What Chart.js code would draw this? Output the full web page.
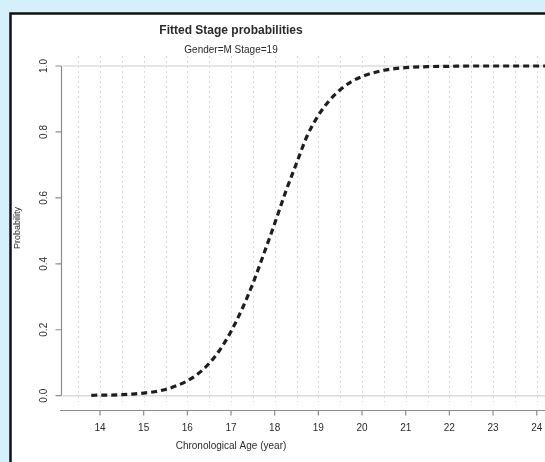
<!DOCTYPE html>
<html>
<head>
<meta charset="utf-8">
<script src="https://cdn.jsdelivr.net/npm/chart.js@4.4.1/dist/chart.umd.min.js"></script>
<style>
  html, body { margin: 0; padding: 0; background: #d4f0fb; }
  #wrap { width: 545px; height: 462px; position: relative; }
</style>
</head>
<body>
<div id="wrap"><canvas id="stageChart" width="545" height="462"></canvas></div>
<script>
// fitted curve
const ages = [13.8, 14.0, 14.25, 14.5, 14.75, 15.0, 15.25, 15.5, 15.75, 16.0, 16.25, 16.5, 16.75,
  17.0, 17.25, 17.5, 17.75, 18.0, 18.25, 18.5, 18.75, 19.0, 19.25, 19.5, 19.75, 20.0, 20.25,
  20.5, 20.75, 21.0, 21.5, 22.0, 22.5, 23.0, 23.5, 24.0, 24.5];
const probs = [0.001, 0.002, 0.002, 0.003, 0.005, 0.008, 0.012, 0.019, 0.030, 0.045, 0.067, 0.098, 0.140,
  0.195, 0.262, 0.340, 0.430, 0.522, 0.618, 0.705, 0.790, 0.850, 0.895, 0.928, 0.952, 0.968, 0.979,
  0.987, 0.992, 0.995, 0.998, 0.999, 1.0, 1.0, 1.0, 1.0, 1.0];

const xTicks = [14, 15, 16, 17, 18, 19, 20, 21, 22, 23, 24];
const yTicks = [0, 0.2, 0.4, 0.6, 0.8, 1.0];
const yTickLabels = ['0.0', '0.2', '0.4', '0.6', '0.8', '1.0'];
const gridAges = [13.5, 14, 14.5, 15, 15.5, 16, 16.5, 17, 17.5, 18, 18.5, 19, 19.5, 20,
  20.5, 21, 21.5, 22, 22.5, 23, 23.5, 24];
const refLines = [0, 1];

const FONT = '"Liberation Sans", Arial, sans-serif';

// R style frame, grid, axes and texts
const rPlotDecor = {
  id: 'rPlotDecor',
  beforeDraw(chart) {
    const ctx = chart.ctx;
    ctx.save();
    ctx.fillStyle = '#d4f0fb';
    ctx.fillRect(0, 0, chart.width, chart.height);
    ctx.fillStyle = '#ffffff';
    ctx.fillRect(10, 13, chart.width, chart.height);
    ctx.strokeStyle = '#111111';
    ctx.lineWidth = 2.5;
    ctx.strokeRect(10.5, 13.5, chart.width + 20, chart.height + 20);
    ctx.restore();
  },
  beforeDatasetsDraw(chart) {
    const ctx = chart.ctx;
    const xs = chart.scales.x, ys = chart.scales.y;
    const area = chart.chartArea;
    ctx.save();
    // dotted vertical grid
    ctx.strokeStyle = '#d8d8d8';
    ctx.lineWidth = 1;
    ctx.setLineDash([2, 3]);
    gridAges.forEach(a => {
      const px = Math.round(xs.getPixelForValue(a)) + 0.5;
      ctx.beginPath();
      ctx.moveTo(px, area.top);
      ctx.lineTo(px, area.bottom);
      ctx.stroke();
    });
    ctx.setLineDash([]);
    // horizontal reference lines at 0 and 1
    ctx.strokeStyle = '#dcdcdc';
    ctx.lineWidth = 1.5;
    refLines.forEach(v => {
      const py = ys.getPixelForValue(v);
      ctx.beginPath();
      ctx.moveTo(area.left + 3, py);
      ctx.lineTo(area.right, py);
      ctx.stroke();
    });
    ctx.restore();
  },
  afterDraw(chart) {
    const ctx = chart.ctx;
    const xs = chart.scales.x, ys = chart.scales.y;
    const area = chart.chartArea;
    ctx.save();
    ctx.strokeStyle = '#8c8c8c';
    ctx.lineWidth = 1.2;
    // y axis
    const axX = 61.5;
    ctx.beginPath();
    ctx.moveTo(axX, ys.getPixelForValue(yTicks[0]));
    ctx.lineTo(axX, ys.getPixelForValue(yTicks[yTicks.length - 1]));
    yTicks.forEach(v => {
      const py = ys.getPixelForValue(v);
      ctx.moveTo(axX, py);
      ctx.lineTo(axX - 6, py);
    });
    ctx.stroke();
    // x axis
    const axY = 410.5;
    ctx.beginPath();
    ctx.moveTo(area.left, axY);
    ctx.lineTo(area.right, axY);
    xTicks.forEach(v => {
      const px = xs.getPixelForValue(v);
      ctx.moveTo(px, axY);
      ctx.lineTo(px, axY + 5);
    });
    ctx.stroke();

    ctx.fillStyle = '#2a2a2a';
    ctx.textAlign = 'center';
    ctx.textBaseline = 'middle';
    ctx.font = '10px ' + FONT;
    xTicks.forEach(v => ctx.fillText(String(v), xs.getPixelForValue(v), 428));
    yTicks.forEach((v, i) => {
      ctx.save();
      ctx.translate(44, ys.getPixelForValue(v));
      ctx.rotate(-Math.PI / 2);
      ctx.fillText(yTickLabels[i], 0, 0);
      ctx.restore();
    });
    ctx.fillText('Chronological Age (year)', 231, 446);
    ctx.save();
    ctx.font = '9px ' + FONT;
    ctx.translate(18, 228);
    ctx.rotate(-Math.PI / 2);
    ctx.fillText('Probability', 0, 0);
    ctx.restore();
    ctx.font = 'bold 12px ' + FONT;
    ctx.fillText('Fitted Stage probabilities', 231, 31);
    ctx.font = '10px ' + FONT;
    ctx.fillText('Gender=M Stage=19', 231, 50);
    ctx.restore();
  }
};

new Chart(document.getElementById('stageChart'), {
  type: 'line',
  data: {
    datasets: [{
      label: 'Fitted probability',
      data: ages.map((a, i) => ({ x: a, y: probs[i] })),
      borderColor: '#1e1e1e',
      borderWidth: 3.2,
      borderDash: [6, 4],
      pointRadius: 0,
      cubicInterpolationMode: 'monotone',
      fill: false
    }]
  },
  options: {
    responsive: false,
    animation: false,
    layout: { padding: { left: 60, right: 0, top: 56, bottom: 60 } },
    plugins: { legend: { display: false }, tooltip: { enabled: false } },
    scales: {
      x: { type: 'linear', display: false, min: 13.084, max: 24.19 },
      y: { display: false, min: -0.0191, max: 1.0303 }
    }
  },
  plugins: [rPlotDecor]
});
</script>
</body>
</html>
